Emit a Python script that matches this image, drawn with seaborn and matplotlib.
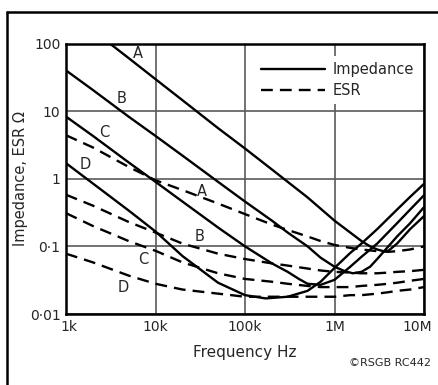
import matplotlib
matplotlib.use("Agg")
import matplotlib.pyplot as plt
import matplotlib.transforms as mtransforms
import seaborn as sns
from matplotlib.lines import Line2D

# ---- data ----
freq_A = [2e3, 3e3, 5e3, 1e4, 2e4, 5e4, 1e5, 2e5, 5e5, 1e6, 1.5e6, 2e6, 2.5e6, 3e6, 3.5e6, 4e6, 5e6, 7e6, 1e7]
imp_A = [157, 103, 61, 29.7, 14.5, 5.6, 2.8, 1.37, 0.53, 0.24, 0.16, 0.12, 0.10, 0.09, 0.085, 0.086, 0.11, 0.18, 0.28]

freq_B = [1e3, 2e3, 5e3, 1e4, 2e4, 5e4, 1e5, 2e5, 3e5, 5e5, 7e5, 1e6, 1.3e6, 1.6e6, 2e6, 2.5e6, 3e6, 4e6, 5e6, 7e6, 1e7]
imp_B = [40, 20.5, 8.3, 4.3, 2.2, 0.9, 0.46, 0.24, 0.16, 0.1, 0.068, 0.05, 0.043, 0.04, 0.042, 0.05, 0.065, 0.1, 0.14, 0.22, 0.38]

freq_C = [1e3, 2e3, 5e3, 1e4, 2e4, 5e4, 1e5, 2e5, 3e5, 4e5, 5e5, 7e5, 1e6, 1.5e6, 2e6, 3e6, 5e6, 7e6, 1e7]
imp_C = [8.3, 4.3, 1.75, 0.9, 0.46, 0.19, 0.1, 0.056, 0.042, 0.033, 0.028, 0.027, 0.032, 0.05, 0.07, 0.11, 0.22, 0.35, 0.57]

freq_D = [1e3, 2e3, 5e3, 1e4, 2e4, 5e4, 1e5, 1.7e5, 3e5, 5e5, 7e5, 1e6, 1.5e6, 2e6, 3e6, 5e6, 7e6, 1e7]
imp_D = [1.7, 0.85, 0.34, 0.166, 0.072, 0.029, 0.019, 0.017, 0.018, 0.022, 0.03, 0.048, 0.08, 0.11, 0.18, 0.35, 0.54, 0.84]

freq_esr = [1e3, 2e3, 5e3, 1e4, 2e4, 5e4, 1e5, 2e5, 3e5, 5e5, 7e5, 1e6, 1.5e6, 2e6, 3e6, 4e6, 5e6, 7e6, 1e7]
esr_A = [4.4, 2.9, 1.5, 0.95, 0.68, 0.43, 0.30, 0.21, 0.175, 0.14, 0.12, 0.105, 0.095, 0.09, 0.085, 0.083, 0.085, 0.09, 0.1]
esr_B = [0.58, 0.4, 0.23, 0.16, 0.11, 0.078, 0.065, 0.056, 0.052, 0.047, 0.044, 0.042, 0.041, 0.04, 0.04, 0.041, 0.042, 0.043, 0.045]
esr_C = [0.31, 0.2, 0.12, 0.086, 0.058, 0.04, 0.033, 0.03, 0.028, 0.026, 0.025, 0.025, 0.025, 0.026, 0.027, 0.028, 0.029, 0.031, 0.033]
esr_D = [0.078, 0.058, 0.037, 0.028, 0.023, 0.02, 0.018, 0.018, 0.018, 0.018, 0.018, 0.018, 0.019, 0.019, 0.02, 0.021, 0.022, 0.023, 0.025]

x_ticks = [1e3, 1e4, 1e5, 1e6, 1e7]
x_ticklabels = ["1k", "10k", "100k", "1M", "10M"]
y_ticks = [0.01, 0.1, 1, 10, 100]
y_ticklabels = ["0·01", "0·1", "1", "10", "100"]

# label positions (frequency, value) for curve letters
imp_label_pos = {"A": (6.4e3, 72), "B": (4.2e3, 15.6), "C": (2.66e3, 4.9), "D": (1.63e3, 1.6)}
esr_label_pos = {"A": (32.8e3, 0.64), "B": (30.8e3, 0.139), "C": (7.3e3, 0.063), "D": (4.4e3, 0.025)}

# ---- figure ----
sns.set_style("white")
plt.rcParams["font.family"] = ["DejaVu Sans"]

fig = plt.figure(figsize=(4.38, 3.85), dpi=100)
ax = fig.add_axes([66 / 438, 1 - 314 / 385, (424 - 66) / 438, (314 - 43.5) / 385])

lw = 1.7
dash = (5, 3)
for f, z in [(freq_A, imp_A), (freq_B, imp_B), (freq_C, imp_C), (freq_D, imp_D)]:
    sns.lineplot(x=f, y=z, ax=ax, color="black", lw=lw, estimator=None, sort=False)
for z in [esr_A, esr_B, esr_C, esr_D]:
    l = sns.lineplot(x=freq_esr, y=z, ax=ax, color="black", lw=lw, estimator=None, sort=False)
    l.lines[-1].set_dashes(dash)

ax.set_xscale("log")
ax.set_yscale("log")
ax.set_xlim(1e3, 1e7)
ax.set_ylim(0.01, 100)
ax.set_xticks(x_ticks)
ax.set_xticklabels(x_ticklabels)
ax.set_yticks(y_ticks)
ax.set_yticklabels(y_ticklabels)
ax.minorticks_off()
ax.tick_params(length=0, labelsize=10, pad=4)
ax.grid(True, which="major", color="#5a5a5a", lw=1.2)
for s in ax.spines.values():
    s.set_color("black")
    s.set_linewidth(1.8)

# nudge the end labels inward as in the reference
xl = ax.get_xticklabels()
xl[0].set_transform(xl[0].get_transform() + mtransforms.ScaledTranslation(3 / 100, 0, fig.dpi_scale_trans))
xl[-1].set_transform(xl[-1].get_transform() + mtransforms.ScaledTranslation(-7 / 100, 0, fig.dpi_scale_trans))

ax.set_xlabel("Frequency Hz", fontsize=11, labelpad=8)
ax.set_ylabel("Impedance, ESR Ω", fontsize=10.5, labelpad=1)

for k, (fx, fy) in imp_label_pos.items():
    ax.text(fx, fy, k, fontsize=10.5, ha="center", va="center")
for k, (fx, fy) in esr_label_pos.items():
    ax.text(fx, fy, k, fontsize=10.5, ha="center", va="center")

handles = [Line2D([], [], color="black", lw=lw),
           Line2D([], [], color="black", lw=lw, dashes=dash)]
leg = ax.legend(handles, ["Impedance", "ESR"], loc="upper right", bbox_to_anchor=(1.0, 0.97),
                fontsize=10.5, frameon=True, handlelength=4.4, handletextpad=0.5,
                labelspacing=0.45, borderaxespad=0.3)
leg.get_frame().set_facecolor("white")
leg.get_frame().set_edgecolor("none")
leg.get_frame().set_alpha(1)

fig.text(431 / 438, 1 - 363 / 385, "©RSGB RC442", fontsize=8, ha="right", va="center")

# outer border (top and left edges visible)
fig.add_artist(Line2D([7 / 438, 7 / 438], [0, 1 - 12 / 385], color="black", lw=1.8, transform=fig.transFigure))
fig.add_artist(Line2D([7 / 438, 1], [1 - 12 / 385, 1 - 12 / 385], color="black", lw=1.8, transform=fig.transFigure))

fig.savefig("out.png", dpi=100)
